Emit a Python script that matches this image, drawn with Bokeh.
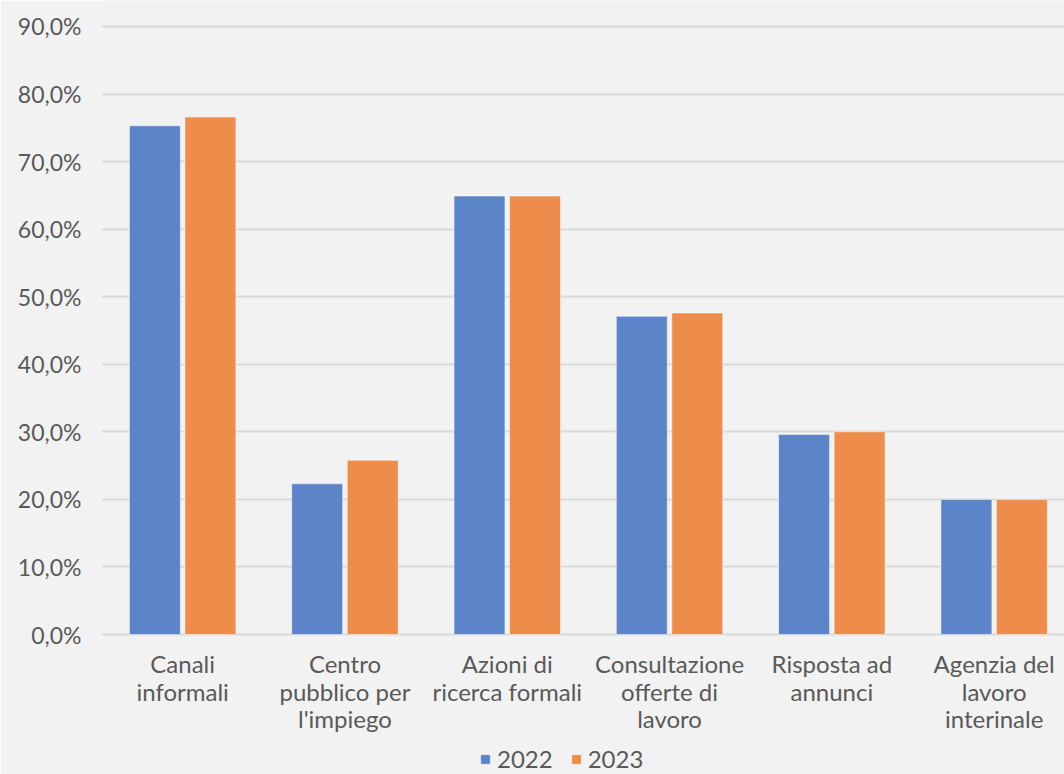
import numpy as np
from bokeh.plotting import figure
from bokeh.models import Range1d, FixedTicker, Legend, LegendItem
from bokeh.embed import file_html
from bokeh.resources import INLINE
from bokeh.core.properties import value

# Canali di ricerca del lavoro (% di utilizzo)
categories = [
    "Canali\ninformali",
    "Centro\npubblico per\nl'impiego",
    "Azioni di\nricerca formali",
    "Consultazione\nofferte di\nlavoro",
    "Risposta ad\nannunci",
    "Agenzia del\nlavoro\ninterinale",
]
values_2022 = [75.3, 22.3, 64.9, 47.1, 29.6, 20.0]
values_2023 = [76.6, 25.8, 64.9, 47.6, 30.0, 20.0]
series_names = ["2022", "2023"]
y_ticks = [0, 10, 20, 30, 40, 50, 60, 70, 80, 90]
y_tick_labels = ["0,0%", "10,0%", "20,0%", "30,0%", "40,0%", "50,0%",
                 "60,0%", "70,0%", "80,0%", "90,0%"]

FONT = "Lato"
TEXT_COLOR = "#595959"
BG = "#f2f2f2"
BLUE = "#5b84c9"
ORANGE = "#ee8d4b"

W, H = 1064, 774
LEFT = 101
PX_PER_CAT = 162.3
PX_PER_UNIT = 6.756          # pixels per percentage point
ZERO_Y = 634                 # pixel row of the 0% line

n = len(categories)
x_pos = np.arange(n) + 0.5
y_bottom = -(H - ZERO_Y) / PX_PER_UNIT
y_top = 90 + (ZERO_Y - 90 * PX_PER_UNIT) / PX_PER_UNIT

p = figure(width=W, height=H, output_backend="svg", toolbar_location=None,
           x_range=Range1d(0, (W - LEFT) / PX_PER_CAT),
           y_range=Range1d(y_bottom, y_top),
           min_border_left=LEFT, min_border_right=0,
           min_border_top=0, min_border_bottom=0)
p.background_fill_color = BG
p.border_fill_color = BG
p.outline_line_color = None

bar_w = 0.314
off = 0.171
r22 = p.vbar(x=x_pos - off, top=values_2022, width=bar_w, bottom=0,
             fill_color=BLUE, line_color="white", line_alpha=0.5, line_width=1)
r23 = p.vbar(x=x_pos + off, top=values_2023, width=bar_w, bottom=0,
             fill_color=ORANGE, line_color="white", line_alpha=0.5, line_width=1)

# horizontal grid only at the percentage ticks
p.xgrid.visible = False
p.ygrid.ticker = FixedTicker(ticks=y_ticks)
p.ygrid.grid_line_color = "#d9d9d9"
p.ygrid.grid_line_width = 2
p.ygrid.level = "underlay"

p.xaxis.visible = False
ya = p.yaxis[0]
ya.ticker = FixedTicker(ticks=y_ticks)
ya.major_label_overrides = {t: s for t, s in zip(y_ticks, y_tick_labels)}
ya.axis_line_color = None
ya.major_tick_line_color = None
ya.minor_tick_line_color = None
ya.major_label_standoff = 14
ya.major_label_text_font = FONT
ya.major_label_text_font_size = "23px"
ya.major_label_text_color = TEXT_COLOR

# category labels, one text row per line
lx, ly, lt = [], [], []
line_gap = 27.5 / PX_PER_UNIT
first_base = -(663 - ZERO_Y) / PX_PER_UNIT
for xi, cat in zip(x_pos, categories):
    for k, line in enumerate(cat.split("\n")):
        lx.append(xi)
        ly.append(first_base - k * line_gap)
        lt.append(line)
p.text(x=lx, y=ly, text=lt, text_align="center", text_baseline="alphabetic",
       text_font=value(FONT), text_font_size="24px", text_color=TEXT_COLOR)

legend = Legend(items=[LegendItem(label=series_names[0], renderers=[r22]),
                       LegendItem(label=series_names[1], renderers=[r23])],
                orientation="horizontal", location=(378, 1))
legend.background_fill_alpha = 0
legend.border_line_color = None
legend.padding = 0
legend.margin = 0
legend.spacing = 17
legend.glyph_width = 12
legend.glyph_height = 12
legend.label_standoff = 6
legend.label_text_font = FONT
legend.label_text_font_size = "24px"
legend.label_text_color = TEXT_COLOR
p.add_layout(legend, "center")

open("out.html", "w").write(file_html(p, INLINE))
